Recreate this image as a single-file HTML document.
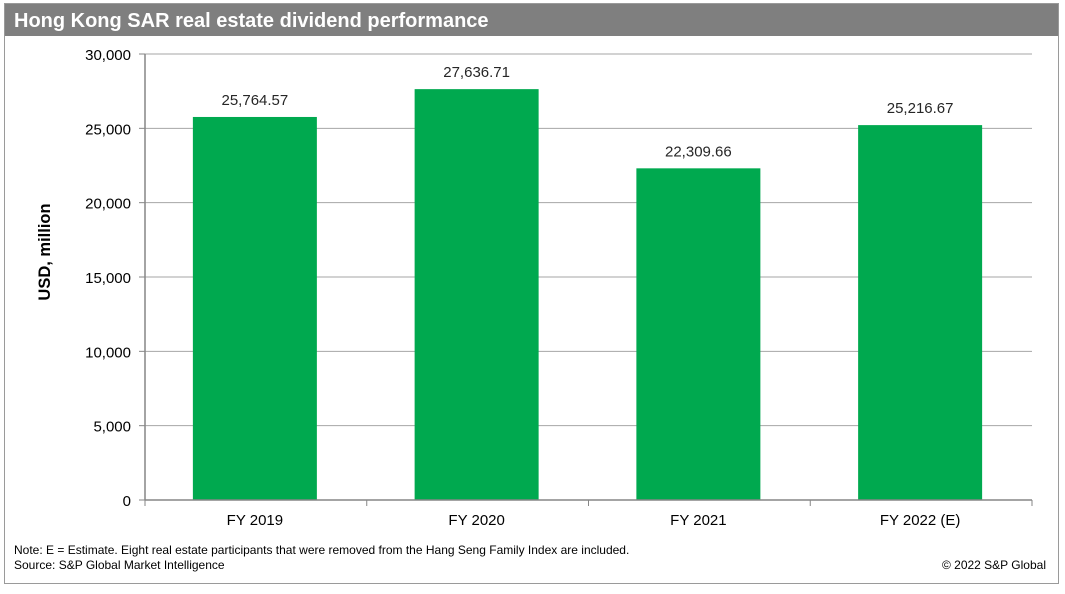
<!DOCTYPE html>
<html><head><meta charset="utf-8"><style>
body{margin:0;background:#fff;width:1065px;height:589px;overflow:hidden;font-family:"Liberation Sans",Arial,sans-serif}
</style></head><body>
<svg width="1065" height="589" xmlns="http://www.w3.org/2000/svg" font-family="Liberation Sans, Arial, sans-serif">
<rect x="4.5" y="3.5" width="1054" height="580" fill="#fff" stroke="#9a9a9a"/>
<rect x="5" y="4" width="1053" height="32" fill="#7f7f7f"/>
<text x="14" y="27" font-size="20" font-weight="bold" fill="#fff">Hong Kong SAR real estate dividend performance</text>
<g id="grid"></g>
<g id="bars"></g>
<g id="axes"></g>
<text transform="translate(50,252) rotate(-90)" text-anchor="middle" font-size="16.5" font-weight="bold" fill="#000">USD, million</text>
<text x="14" y="554" font-size="12" fill="#000">Note: E = Estimate. Eight real estate participants that were removed from the Hang Seng Family Index are included.</text>
<text x="14" y="569" font-size="12" fill="#000">Source: S&amp;P Global Market Intelligence</text>
<text x="1046" y="569" text-anchor="end" font-size="12" fill="#000">© 2022 S&amp;P Global</text>
</svg>
<script>
const categories = ["FY 2019","FY 2020","FY 2021","FY 2022 (E)"];
const values = [25764.57, 27636.71, 22309.66, 25216.67];
const valueLabels = ["25,764.57","27,636.71","22,309.66","25,216.67"];
const yTicks = [0,5000,10000,15000,20000,25000,30000];
const yTickLabels = ["0","5,000","10,000","15,000","20,000","25,000","30,000"];

const NS="http://www.w3.org/2000/svg";
const X0=145,X1=1032,Y0=500,Y1=54,YMAX=30000;
const band=(X1-X0)/categories.length, bw=124;
function y(v){return Y0-(v/YMAX)*(Y0-Y1);}
function xc(i){return X0+band*(i+0.5)-1;}
function mk(tag,attrs,parent){const e=document.createElementNS(NS,tag);for(const k in attrs)e.setAttribute(k,attrs[k]);parent.appendChild(e);return e;}
const grid=document.getElementById('grid'),bars=document.getElementById('bars'),axes=document.getElementById('axes');
yTicks.forEach((t,i)=>{
  if(t>0){const g=mk('line',{x1:X0,x2:X1,y1:y(t),y2:y(t),stroke:'#a6a6a6','stroke-width':1},grid);
  
  }
  const tk=mk('line',{x1:X0-6,x2:X0,y1:y(t),y2:y(t),stroke:'#868686'},axes);
  
  
  const tx=mk('text',{x:X0-14,y:y(t)+6,'text-anchor':'end','font-size':15,fill:'#000'},axes);
  tx.textContent=yTickLabels[i];
  
  
});
categories.forEach((c,i)=>{
  const r=mk('rect',{x:xc(i)-bw/2,y:y(values[i]),width:bw,height:Y0-y(values[i]),fill:'#00a94f'},bars);
  
  
  const l=mk('text',{x:xc(i),y:y(values[i])-12,'text-anchor':'middle','font-size':15,fill:'#262626'},bars);
  l.textContent=valueLabels[i];
  
  
  const cl=mk('text',{x:xc(i),y:Y0+25,'text-anchor':'middle','font-size':15,fill:'#000'},axes);
  cl.textContent=c;
  
  
});
for(let i=0;i<=categories.length;i++){
  const t=mk('line',{x1:X0+band*i,x2:X0+band*i,y1:Y0,y2:Y0+6,stroke:'#868686'},axes);
  
  
}
const ya=mk('line',{x1:X0,x2:X0,y1:Y1,y2:Y0,stroke:'#868686','stroke-width':1.5},axes);


const xa=mk('line',{x1:X0,x2:X1,y1:Y0,y2:Y0,stroke:'#868686','stroke-width':1.5},axes);


</script>
</body></html>
